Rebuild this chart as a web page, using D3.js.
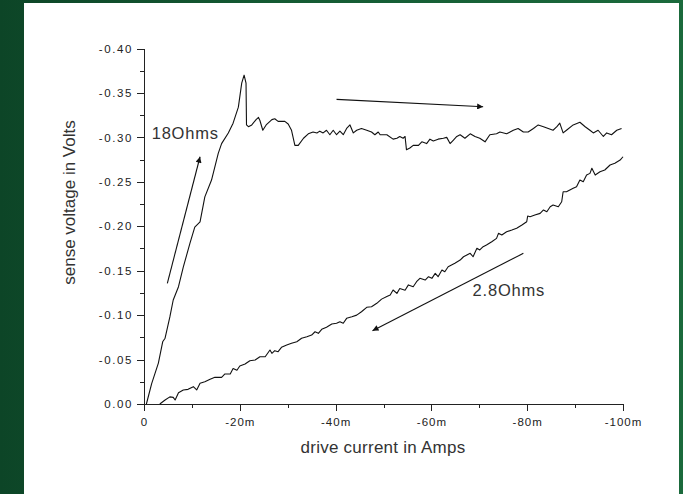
<!DOCTYPE html>
<html>
<head>
<meta charset="utf-8">
<script src="https://cdn.jsdelivr.net/npm/d3@7"></script>
<style>
  html, body { margin: 0; padding: 0; }
  body { width: 683px; height: 494px; overflow: hidden;
         background: linear-gradient(to right, #0d4527, #145a33 40%, #1b6a3c); }
  svg { display: block; }
  .tick text { font-family: "Liberation Sans", Arial, sans-serif; font-size: 11.5px; fill: #222; letter-spacing: 1.6px; }
  .eixoX .tick text { letter-spacing: 1px; }
  .axis path, .axis line { stroke: #222; shape-rendering: crispEdges; }
  .axistitle { font-family: "Liberation Sans", Arial, sans-serif; font-size: 17px; fill: #333; }
  .note { font-family: "Liberation Sans", Arial, sans-serif; font-size: 16.5px; fill: #333; letter-spacing: 0.8px; }
</style>
</head>
<body>
<svg id="chart"></svg>
<script>
// drive current (mA), sense voltage (V)
var ohms18 = [
  [-0.5,0],[-1.6,-0.023],[-3.0,-0.046],[-3.9,-0.070],[-4.4,-0.074],[-5.4,-0.098],[-6.1,-0.117],
  [-7.2,-0.132],[-8.2,-0.154],[-9.6,-0.181],[-10.6,-0.199],[-11.7,-0.205],[-12.7,-0.233],
  [-14.1,-0.252],[-15.5,-0.282],[-16.2,-0.293],[-17.6,-0.305],[-18.6,-0.316],[-19.7,-0.334],
  [-20.4,-0.361],[-20.9,-0.370],[-21.3,-0.361],[-21.4,-0.314],[-21.8,-0.312],[-22.5,-0.314],
  [-23.4,-0.320],[-23.9,-0.3225],[-24.2,-0.319],[-24.8,-0.308],[-25.5,-0.314],[-26.7,-0.320],
  [-27.3,-0.321],[-28.0,-0.318],[-29.4,-0.318],[-30.1,-0.315],[-30.8,-0.308],[-31.5,-0.291],
  [-32.2,-0.291],[-33.3,-0.299],[-34.3,-0.304],[-35.3,-0.306],[-36.1,-0.305],[-36.7,-0.307],
  [-37.4,-0.305],[-38.1,-0.308],[-38.8,-0.303],[-39.5,-0.308],[-40.2,-0.303],[-40.9,-0.307],
  [-41.6,-0.303],[-42.3,-0.310],[-43.0,-0.314],[-43.7,-0.305],[-44.4,-0.308],[-45.4,-0.310],
  [-46.5,-0.308],[-47.5,-0.306],[-48.2,-0.303],[-48.9,-0.306],[-49.3,-0.303],[-50.7,-0.303],
  [-52.0,-0.298],[-52.8,-0.299],[-53.4,-0.301],[-54.1,-0.299],[-54.5,-0.301],[-54.8,-0.286],
  [-55.5,-0.288],[-56.2,-0.291],[-57.3,-0.291],[-58.0,-0.295],[-59.0,-0.293],[-59.7,-0.298],
  [-60.4,-0.296],[-61.4,-0.298],[-62.5,-0.299],[-63.2,-0.300],[-63.9,-0.293],[-64.6,-0.297],
  [-65.3,-0.301],[-66.0,-0.303],[-67.0,-0.299],[-68.1,-0.304],[-69.1,-0.301],[-70.1,-0.299],
  [-71.2,-0.295],[-72.2,-0.303],[-73.6,-0.304],[-74.3,-0.306],[-75.7,-0.304],[-77.1,-0.308],
  [-78.1,-0.310],[-79.2,-0.306],[-80.2,-0.306],[-81.3,-0.310],[-82.3,-0.314],[-83.4,-0.312],
  [-84.4,-0.310],[-85.4,-0.308],[-86.2,-0.312],[-86.8,-0.316],[-87.5,-0.305],[-88.2,-0.308],
  [-89.6,-0.314],[-91.0,-0.317],[-92.1,-0.312],[-93.1,-0.308],[-93.8,-0.305],[-94.8,-0.308],
  [-95.9,-0.301],[-96.6,-0.305],[-97.6,-0.303],[-98.7,-0.308],[-99.7,-0.310]
];

var ohms2p8 = [
  [-3.3,0],[-4.4,-0.0045],[-5.4,-0.008],[-6.1,-0.0075],[-6.5,-0.0045],[-7.2,-0.0127],[-8.2,-0.0158],
  [-9.2,-0.0165],[-10.3,-0.0195],[-11.0,-0.0158],[-11.7,-0.0233],[-12.7,-0.025],[-13.8,-0.0278],
  [-14.8,-0.030],[-16.2,-0.030],[-16.9,-0.0338],[-18.0,-0.0338],[-18.6,-0.040],[-19.4,-0.038],
  [-20.0,-0.0428],[-21.1,-0.045],[-22.1,-0.0487],[-23.2,-0.0495],[-24.2,-0.0532],[-25.3,-0.0532],
  [-26.3,-0.0608],[-26.7,-0.057],[-27.3,-0.060],[-28.0,-0.0589],[-28.7,-0.0638],[-29.8,-0.0664],
  [-30.8,-0.0683],[-31.9,-0.0701],[-32.9,-0.0739],[-34.0,-0.0757],[-35.0,-0.0776],[-35.7,-0.0813],
  [-36.4,-0.0795],[-37.1,-0.084],[-38.1,-0.0863],[-39.2,-0.090],[-40.2,-0.0908],[-40.9,-0.0926],
  [-41.6,-0.0908],[-42.3,-0.0964],[-43.4,-0.0982],[-44.4,-0.100],[-45.4,-0.1038],[-46.5,-0.1088],
  [-47.5,-0.1095],[-48.6,-0.1133],[-49.6,-0.118],[-50.7,-0.121],[-51.4,-0.1226],[-52.0,-0.1283],
  [-52.8,-0.1245],[-53.4,-0.130],[-54.5,-0.128],[-55.2,-0.134],[-56.2,-0.132],[-56.9,-0.1376],
  [-57.6,-0.1414],[-58.7,-0.1395],[-59.4,-0.1432],[-60.1,-0.1414],[-60.8,-0.147],[-61.4,-0.1432],
  [-62.2,-0.1508],[-62.8,-0.1488],[-63.5,-0.1545],[-64.2,-0.1564],[-64.9,-0.1583],[-66.0,-0.162],
  [-66.7,-0.1657],[-67.4,-0.1676],[-68.1,-0.1695],[-68.7,-0.1657],[-69.5,-0.1752],[-70.1,-0.1733],
  [-70.8,-0.177],[-71.5,-0.1789],[-72.6,-0.1826],[-73.6,-0.1864],[-74.0,-0.192],[-74.7,-0.1901],
  [-75.7,-0.1938],[-76.8,-0.1957],[-77.8,-0.1977],[-78.9,-0.2014],[-79.9,-0.2051],[-80.1,-0.2115],
  [-80.6,-0.2107],[-81.6,-0.2126],[-82.7,-0.2145],[-83.4,-0.2183],[-84.1,-0.2163],[-84.8,-0.222],
  [-85.4,-0.2239],[-86.5,-0.222],[-87.2,-0.2276],[-87.5,-0.2388],[-88.2,-0.2388],[-88.9,-0.2407],
  [-89.6,-0.2427],[-90.3,-0.2445],[-91.0,-0.252],[-91.7,-0.2501],[-92.4,-0.2576],[-93.1,-0.2595],
  [-93.5,-0.2652],[-94.2,-0.2576],[-95.2,-0.2613],[-96.2,-0.2633],[-97.3,-0.2689],[-98.3,-0.2708],
  [-99.4,-0.2745],[-100,-0.2782]
];

var xTicks = [0, -20, -40, -60, -80, -100];
var xMinorTicks = [-10, -30, -50, -70, -90];
var yTicks = [0, -0.05, -0.10, -0.15, -0.20, -0.25, -0.30, -0.35, -0.40];
var yMinorTicks = [-0.025, -0.075, -0.125, -0.175, -0.225, -0.275, -0.325, -0.375];

// arrows [from, to] and text notes, in data units
var arrows = [
  [[-4.87, -0.1358], [-11.7, -0.2782]],
  [[-40.2, -0.3428], [-70.8, -0.3345]],
  [[-79.2, -0.1695], [-47.7, -0.0825]]
];
var notes = [
  {text: '18Ohms', at: [-1.6, -0.298]},
  {text: '2.8Ohms', at: [-68.6, -0.121]}
];

var largura = 683, altura = 494;
var margem = {esquerda: 144, direita: 60, superior: 48.5, inferior: 90};

var svg = d3.select('#chart')
            .attr('width', largura)
            .attr('height', altura);

// white panel on the green slide
svg.append('rect')
   .attr('x', 24).attr('y', 3)
   .attr('width', 655).attr('height', 491)
   .attr('fill', '#fff');

var w = largura - margem.esquerda - margem.direita;
var h = altura - margem.superior - margem.inferior;

var plot = svg.append('g')
              .attr('transform', 'translate(' + margem.esquerda + ',' + margem.superior + ')');

var x = d3.scaleLinear().domain([0, -100]).range([0, w]);
var y = d3.scaleLinear().domain([0, -0.40]).range([h, 0]);

// minor ticks first, then major axes on top
plot.append('g').attr('class', 'axis')
    .attr('transform', 'translate(0,' + h + ')')
    .call(d3.axisBottom(x).tickValues(xMinorTicks).tickSize(4).tickSizeOuter(0).tickFormat(''));
plot.append('g').attr('class', 'axis')
    .call(d3.axisLeft(y).tickValues(yMinorTicks).tickSize(4).tickSizeOuter(0).tickFormat(''));

plot.append('g').attr('class', 'axis eixoX')
    .attr('transform', 'translate(0,' + h + ')')
    .call(d3.axisBottom(x).tickValues(xTicks).tickSize(7).tickSizeOuter(0).tickPadding(6.5)
            .tickFormat(d => d === 0 ? '0' : d + 'm'));
plot.append('g').attr('class', 'axis')
    .call(d3.axisLeft(y).tickValues(yTicks).tickSize(7).tickSizeOuter(0).tickPadding(4)
            .tickFormat(d => d.toFixed(2)));

// axis titles
plot.append('text')
    .attr('class', 'axistitle')
    .attr('text-anchor', 'middle')
    .attr('x', 383 - margem.esquerda)
    .attr('y', h + 49)
    .style('letter-spacing', '0.25px')
    .text('drive current in Amps');

plot.append('text')
    .attr('class', 'axistitle')
    .attr('text-anchor', 'middle')
    .attr('transform', 'translate(' + (75 - margem.esquerda) + ',' + (202.5 - margem.superior) + ') rotate(-90)')
    .text('sense voltage in Volts');

// curves
var linha = d3.line().x(d => x(d[0])).y(d => y(d[1]));
[ohms18, ohms2p8].forEach(function(serie) {
  plot.append('path')
      .datum(serie)
      .attr('d', linha)
      .attr('fill', 'none')
      .attr('stroke', '#111')
      .attr('stroke-width', 1.1)
      .attr('stroke-linejoin', 'round');
});

// arrow marker
svg.append('defs').append('marker')
   .attr('id', 'seta')
   .attr('viewBox', '0 0 10 10')
   .attr('refX', 10).attr('refY', 5)
   .attr('markerWidth', 8).attr('markerHeight', 6)
   .attr('markerUnits', 'userSpaceOnUse')
   .attr('orient', 'auto')
   .append('path')
   .attr('d', 'M0,0 L10,5 L0,10 z')
   .attr('fill', '#111');

plot.selectAll('.seta')
    .data(arrows)
    .enter()
    .append('line')
    .attr('class', 'seta')
    .attr('x1', d => x(d[0][0])).attr('y1', d => y(d[0][1]))
    .attr('x2', d => x(d[1][0])).attr('y2', d => y(d[1][1]))
    .attr('stroke', '#111')
    .attr('stroke-width', 1.1)
    .attr('marker-end', 'url(#seta)');

plot.selectAll('.note')
    .data(notes)
    .enter()
    .append('text')
    .attr('class', 'note')
    .attr('x', d => x(d.at[0]))
    .attr('y', d => y(d.at[1]))
    .text(d => d.text);
</script>
</body>
</html>
